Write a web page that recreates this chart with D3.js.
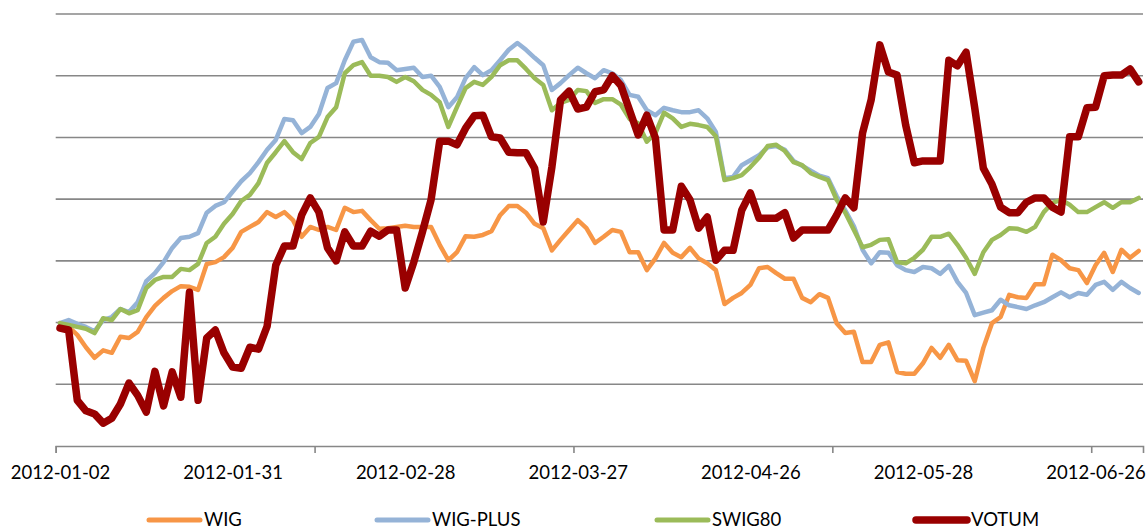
<!DOCTYPE html>
<meta charset="utf-8">
<style>
body { margin: 0; background: #fff; }
svg { display: block; }
.axis text { font: 18.5px Lato, "Open Sans", sans-serif; fill: #000; }
.legend text { font: 18.5px Lato, "Open Sans", sans-serif; fill: #000; }
.grid line { stroke: #878787; stroke-width: 1.6; }
path.serie { fill: none; stroke-linejoin: round; stroke-linecap: round; }
</style>
<body>
<div id="chart"></div>
<script src="https://cdnjs.cloudflare.com/ajax/libs/d3/7.8.5/d3.min.js"></script>
<script>

// sessions de la GPW, 2012-01-02 -> 2012-07-03 (jours fériés exclus)
var firstDay = "2012-01-02";
var nSessions = 126;
var holidays = ["2012-01-06", "2012-04-06", "2012-04-09", "2012-05-01", "2012-05-03", "2012-06-07"];

// une étiquette toutes les 20 séances, une graduation toutes les 30
var labelEvery = 20;
var tickEvery = 30;

var seriesNames = ["WIG", "WIG-PLUS", "SWIG80", "VOTUM"];
var seriesColors = ["#f79646", "#95b3d7", "#9bbb59", "#990000"];

// base 100 au 2012-01-02
var wig = [
  99.9, 99.3, 98.0, 96.0, 94.3, 95.5, 95.1, 97.7, 97.5, 98.5,
  100.9, 102.7, 104.0, 105.1, 105.9, 105.8, 105.3, 109.5, 109.8, 110.6,
  112.1, 114.7, 115.5, 116.3, 117.9, 117.1, 117.9, 116.6, 113.9, 115.5,
  115.0, 115.5, 115.0, 118.6, 117.9, 118.1, 116.6, 115.2, 115.3, 115.5,
  115.7, 115.5, 115.5, 115.5, 112.6, 110.1, 111.4, 114.0, 113.9, 114.2,
  114.8, 117.4, 118.9, 118.9, 117.8, 116.0, 115.3, 111.7, 113.4, 115.0,
  116.6, 115.3, 112.9, 113.9, 115.0, 114.7, 111.4, 111.4, 108.5, 110.4,
  112.9, 111.3, 110.6, 112.1, 110.4, 109.6, 108.5, 103.0, 104.0, 104.8,
  106.1, 108.8, 109.0, 108.0, 107.1, 107.1, 104.0, 103.3, 104.6, 104.0,
  99.9, 98.3, 98.5, 93.6, 93.6, 96.4, 96.8, 92.0, 91.7, 91.7,
  93.4, 95.9, 94.3, 96.4, 93.9, 93.8, 90.5, 95.9, 99.9, 100.9,
  104.5, 104.1, 104.0, 106.2, 106.2, 111.0, 110.1, 108.8, 108.5, 106.4,
  109.3, 111.3, 108.2, 111.8, 110.5, 111.6
];
var wigPlus = [
  99.9, 100.4, 99.8, 99.3, 98.6, 100.4, 100.9, 102.2, 101.7, 103.3,
  106.7, 108.0, 109.8, 112.1, 113.7, 113.9, 114.5, 117.8, 118.9, 119.5,
  121.2, 122.9, 124.2, 126.0, 128.0, 129.6, 133.0, 132.8, 130.7, 131.7,
  133.8, 138.0, 138.8, 142.5, 145.5, 145.8, 143.0, 142.2, 142.1, 140.9,
  141.1, 141.3, 139.8, 140.0, 138.2, 134.9, 136.5, 139.6, 141.4, 140.1,
  140.9, 142.5, 144.2, 145.3, 144.2, 142.9, 141.7, 137.7, 138.8, 140.1,
  141.3, 140.4, 139.6, 140.9, 140.4, 139.3, 136.9, 136.6, 134.4, 133.6,
  134.8, 134.4, 134.1, 134.1, 134.4, 133.1, 130.9, 123.4, 123.6, 125.5,
  126.3, 127.1, 128.4, 128.6, 128.0, 126.2, 125.4, 124.6, 123.8, 123.4,
  120.5, 118.2, 115.6, 111.8, 109.6, 111.4, 111.3, 109.3, 108.5, 108.2,
  109.0, 108.8, 107.9, 109.2, 106.6, 104.8, 101.2, 101.6, 102.0, 103.7,
  102.8, 102.5, 102.2, 102.8, 103.3, 104.1, 104.9, 104.1, 104.8, 104.5,
  106.1, 106.6, 105.3, 106.6, 105.6, 104.8
];
var swig80 = [
  99.9, 99.6, 99.3, 99.0, 98.3, 100.7, 100.4, 102.2, 101.5, 102.0,
  105.6, 106.9, 107.4, 107.4, 108.7, 108.5, 109.5, 112.9, 113.9, 116.0,
  117.6, 119.7, 120.7, 122.6, 125.9, 127.6, 129.4, 127.6, 126.5, 129.1,
  130.1, 133.3, 134.9, 140.4, 141.7, 142.2, 140.0, 140.0, 139.8, 139.0,
  139.8, 139.1, 137.7, 136.9, 135.7, 131.7, 134.9, 138.0, 139.0, 138.5,
  139.8, 141.7, 142.5, 142.5, 141.1, 139.6, 138.5, 134.4, 135.6, 136.1,
  137.7, 137.5, 135.6, 136.2, 136.2, 135.3, 133.0, 132.3, 129.3, 130.7,
  134.0, 133.1, 131.7, 132.2, 132.0, 131.7, 130.2, 123.1, 123.4, 123.9,
  125.2, 126.7, 128.6, 128.8, 127.8, 126.0, 125.5, 124.2, 123.6, 123.1,
  119.9, 117.8, 115.0, 112.2, 112.6, 113.4, 113.5, 109.8, 109.6, 110.5,
  111.8, 113.9, 113.9, 114.4, 112.6, 110.5, 107.9, 111.4, 113.4, 114.2,
  115.3, 115.2, 114.7, 115.5, 117.9, 119.4, 119.9, 119.1, 117.9, 117.9,
  118.7, 119.5, 118.6, 119.5, 119.5, 120.2
];
var votum = [
  99.1, 98.8, 87.4, 85.7, 85.2, 83.7, 84.5, 86.8, 90.2, 88.2,
  85.5, 92.1, 86.5, 92.0, 87.9, 104.9, 87.4, 97.5, 98.8, 95.1,
  92.8, 92.6, 96.0, 95.7, 99.4, 109.3, 112.4, 112.4, 117.4, 120.2,
  117.9, 112.1, 110.0, 114.7, 112.4, 112.4, 114.8, 114.0, 115.0, 115.0,
  105.6, 109.8, 114.7, 119.9, 129.4, 129.4, 128.8, 131.5, 133.5, 133.6,
  130.1, 129.9, 127.6, 127.5, 127.5, 125.0, 116.3, 125.2, 136.1, 137.5,
  134.6, 134.9, 137.4, 137.7, 140.0, 138.4, 134.4, 130.4, 133.6, 129.9,
  115.0, 115.0, 122.1, 119.9, 115.3, 117.1, 110.1, 111.7, 111.7, 118.2,
  121.0, 116.9, 116.9, 116.9, 117.8, 113.7, 115.0, 115.0, 115.0, 115.0,
  117.4, 120.2, 118.6, 130.7, 136.1, 145.0, 140.6, 140.1, 132.0, 125.9,
  126.2, 126.2, 126.2, 142.5, 141.6, 143.8, 134.8, 125.0, 122.4, 118.7,
  117.8, 117.8, 119.5, 120.2, 120.2, 118.7, 117.9, 130.1, 130.1, 134.8,
  134.9, 140.0, 140.1, 140.1, 141.1, 139.0
];

var largeur = 1148;
var hauteur = 530;
var margin = {top: 14, right: 5, bottom: 84, left: 55.7};
var yMin = 80, yMax = 150, yStep = 10;

// liste des séances
var fmt = d3.timeFormat("%Y-%m-%d");
var sessions = [];
var day = d3.timeParse("%Y-%m-%d")(firstDay);
while (sessions.length < nSessions) {
    var s = fmt(day);
    if (day.getDay() != 0 && day.getDay() != 6 && holidays.indexOf(s) < 0) sessions.push(s);
    day = d3.timeDay.offset(day, 1);
}

const svg = d3.select("#chart")
    .append("svg")
        .attr("width", largeur)
        .attr("height", hauteur);

// échelle des catégories : une case de largeur égale par séance
var x = d3.scaleLinear()
    .domain([0, nSessions])
    .range([margin.left, largeur - margin.right]);
var y = d3.scaleLinear()
    .domain([yMin, yMax])
    .range([hauteur - margin.bottom, margin.top]);

// lignes horizontales de la grille
svg.append("g")
    .attr("class", "grid")
    .selectAll("line")
    .data(d3.range(yMin + yStep, yMax + yStep / 2, yStep))
    .enter().append("line")
        .attr("x1", x(0))
        .attr("x2", x(nSessions))
        .attr("y1", d => y(d))
        .attr("y2", d => y(d));

// axe des abscisses : graduations entre les catégories
var yAxe = hauteur - margin.bottom;
var tickAxis = d3.axisBottom(x)
    .tickValues(d3.range(0, nSessions, tickEvery))
    .tickSize(7)
    .tickFormat("");
var gTicks = svg.append("g")
    .attr("transform", "translate(0," + yAxe + ")")
    .call(tickAxis);
gTicks.select(".domain").attr("stroke", "#878787").attr("stroke-width", 1.6);
gTicks.selectAll(".tick line").attr("stroke", "#878787").attr("stroke-width", 1.6);

// étiquettes au centre des catégories
var labelAxis = d3.axisBottom(x)
    .tickValues(d3.range(0, nSessions, labelEvery).map(i => i + 0.5))
    .tickSize(0)
    .tickPadding(20)
    .tickFormat(d => sessions[d - 0.5]);
var gLabels = svg.append("g")
    .attr("class", "axis")
    .attr("transform", "translate(0," + yAxe + ")")
    .call(labelAxis);
gLabels.select(".domain").remove();
gLabels.selectAll("text").attr("font-size", null).attr("font-family", null);

// les courbes
var data = [wig, wigPlus, swig80, votum];
var line = d3.line()
    .x((d, i) => x(i + 0.5))
    .y(d => y(d));

svg.selectAll("path.serie")
    .data(data)
    .enter().append("path")
        .attr("class", "serie")
        .attr("stroke", (d, i) => seriesColors[i])
        .attr("stroke-width", (d, i) => i == 3 ? 7.5 : 4.5)
        .attr("d", line);

// légende sous le graphique
var legend = svg.append("g").attr("class", "legend");
var yLeg = 520, lineLen = 53, gapText = 4;
var legendX = [147, 375, 655, 914];
var items = legend.selectAll("g")
    .data(seriesNames)
    .enter().append("g")
        .attr("transform", (d, i) => "translate(" + legendX[i] + "," + yLeg + ")");
items.append("line")
    .attr("x1", 2).attr("x2", lineLen)
    .attr("y1", 0).attr("y2", 0)
    .attr("stroke", (d, i) => seriesColors[i])
    .attr("stroke-linecap", "round")
    .attr("stroke-width", (d, i) => i == 3 ? 7.5 : 5);
items.append("text")
    .attr("x", lineLen + gapText)
    .attr("dy", "0.35em")
    .text(d => d);

</script>
</body>
